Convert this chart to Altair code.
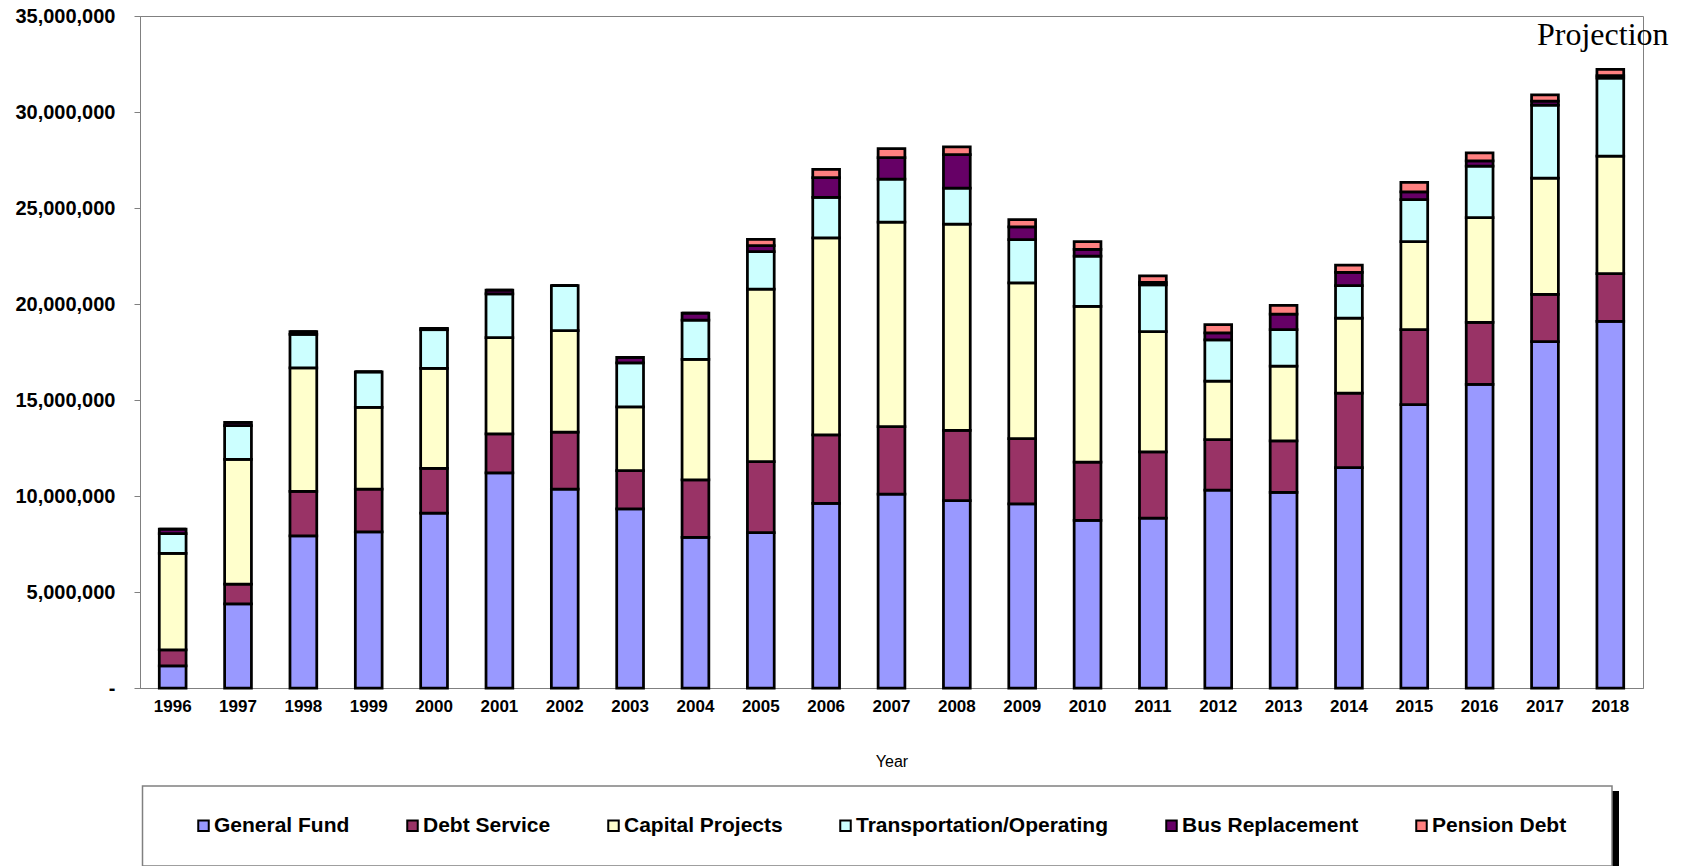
import altair as alt
import pandas as pd

# Fiscal years on the x axis
years = [str(y) for y in range(1996, 2019)]

# Amounts per fund, in millions of dollars
general_fund = [1.15, 4.38, 7.92, 8.13, 9.11, 11.20, 10.36, 9.33, 7.85, 8.09, 9.62, 10.10,
                9.76, 9.59, 8.73, 8.85, 10.31, 10.19, 11.48, 14.76, 15.81, 18.04, 19.09]
debt_service = [0.84, 1.03, 2.32, 2.23, 2.33, 2.03, 2.97, 1.99, 2.99, 3.70, 3.56, 3.51,
                3.66, 3.40, 3.04, 3.45, 2.63, 2.68, 3.88, 3.90, 3.23, 2.46, 2.49]
capital_projects = [5.02, 6.50, 6.43, 4.26, 5.21, 5.02, 5.28, 3.32, 6.27, 8.98, 10.27, 10.65,
                    10.74, 8.11, 8.11, 6.26, 3.04, 3.90, 3.90, 4.59, 5.46, 6.05, 6.12]
transportation = [1.03, 1.75, 1.75, 1.84, 2.01, 2.28, 2.35, 2.30, 2.05, 1.96, 2.10, 2.25,
                  1.87, 2.25, 2.61, 2.44, 2.15, 1.89, 1.70, 2.18, 2.68, 3.81, 4.07]
bus_replacement = [0.24, 0.17, 0.14, 0.00, 0.07, 0.19, 0.00, 0.28, 0.36, 0.31, 1.03, 1.12,
                   1.75, 0.67, 0.36, 0.12, 0.36, 0.81, 0.69, 0.41, 0.28, 0.21, 0.12]
pension_debt = [0.00, 0.00, 0.00, 0.00, 0.00, 0.00, 0.00, 0.00, 0.00, 0.33, 0.43, 0.46,
                0.40, 0.38, 0.40, 0.34, 0.43, 0.46, 0.38, 0.50, 0.41, 0.32, 0.33]

series_names = ["General Fund", "Debt Service", "Capital Projects",
                "Transportation/Operating", "Bus Replacement", "Pension Debt"]
series_values = [general_fund, debt_service, capital_projects,
                 transportation, bus_replacement, pension_debt]
series_colors = ["#9999FF", "#993366", "#FFFFCC", "#CCFFFF", "#660066", "#FF8080"]

y_ticks = [0, 5000000, 10000000, 15000000, 20000000, 25000000, 30000000, 35000000]
note_text = ["Projection"]

rows = []
for idx, (name, values) in enumerate(zip(series_names, series_values)):
    for year, v in zip(years, values):
        rows.append({"Year": year, "Fund": name, "Amount": v * 1_000_000, "Order": idx})
df = pd.DataFrame(rows)

FONT = "Liberation Sans, Arial, sans-serif"
GRAY = "#808080"

bars = alt.Chart(df).mark_bar(stroke="black", strokeWidth=2.75, strokeJoin="miter").encode(
    x=alt.X(
        "Year:N",
        sort=years,
        scale=alt.Scale(paddingInner=0.59, paddingOuter=0.295),
        axis=alt.Axis(
            title="Year",
            labelAngle=0,
            labelFont=FONT,
            labelFontSize=17,
            labelFontWeight="bold",
            labelColor="black",
            labelPadding=10,
            ticks=False,
            domainColor=GRAY,
            titleFont=FONT,
            titleFontSize=16,
            titleFontWeight="normal",
            titleColor="black",
            titleY=73,
            titleBaseline="middle",
        ),
    ),
    y=alt.Y(
        "Amount:Q",
        stack="zero",
        scale=alt.Scale(domain=[0, 35000000], nice=False),
        axis=alt.Axis(
            title=None,
            values=y_ticks,
            grid=False,
            labelExpr="datum.value == 0 ? '-\u00a0\u00a0' : format(datum.value, ',')",
            labelFont=FONT,
            labelFontSize=20,
            labelFontWeight="bold",
            labelColor="black",
            labelPadding=19,
            tickSize=6,
            tickColor=GRAY,
            domainColor=GRAY,
        ),
    ),
    color=alt.Color(
        "Fund:N",
        scale=alt.Scale(domain=series_names, range=series_colors),
        legend=alt.Legend(
            title=None,
            orient="none",
            direction="horizontal",
            columns=6,
            legendX=53,
            legendY=799,
            symbolType="square",
            symbolSize=110,
            symbolStrokeColor="black",
            symbolStrokeWidth=2,
            symbolOpacity=1,
            labelFont=FONT,
            labelFontSize=21,
            labelFontWeight="bold",
            labelColor="black",
            labelOffset=0,
            labelLimit=400,
            columnPadding=52,
        ),
    ),
    order=alt.Order("Order:Q", sort="ascending"),
)

one = pd.DataFrame({"k": [0]})

# Legend frame with a drop shadow
legend_shadow = alt.Chart(one).mark_rect(fill="black").encode(
    x=alt.value(8), x2=alt.value(1479), y=alt.value(775), y2=alt.value(856)
)
legend_box = alt.Chart(one).mark_rect(fill="white", stroke=GRAY, strokeWidth=1.5).encode(
    x=alt.value(2.5), x2=alt.value(1472), y=alt.value(770), y2=alt.value(850)
)

note = alt.Chart(pd.DataFrame({"label": note_text})).mark_text(
    font="Liberation Serif, Times New Roman, serif",
    fontSize=32,
    color="black",
    align="left",
    baseline="alphabetic",
).encode(text="label:N", x=alt.value(1397), y=alt.value(28.5))

chart = alt.layer(legend_shadow, legend_box, bars, note).properties(
    width=1503,
    height=672,
    autosize=alt.AutoSizeParams(type="none"),
    padding={"left": 140, "top": 16, "right": 48, "bottom": 178},
    background="white",
).configure_view(stroke=GRAY, strokeWidth=1)

chart.save("out.html", embed_options={"renderer": "svg", "actions": False})
